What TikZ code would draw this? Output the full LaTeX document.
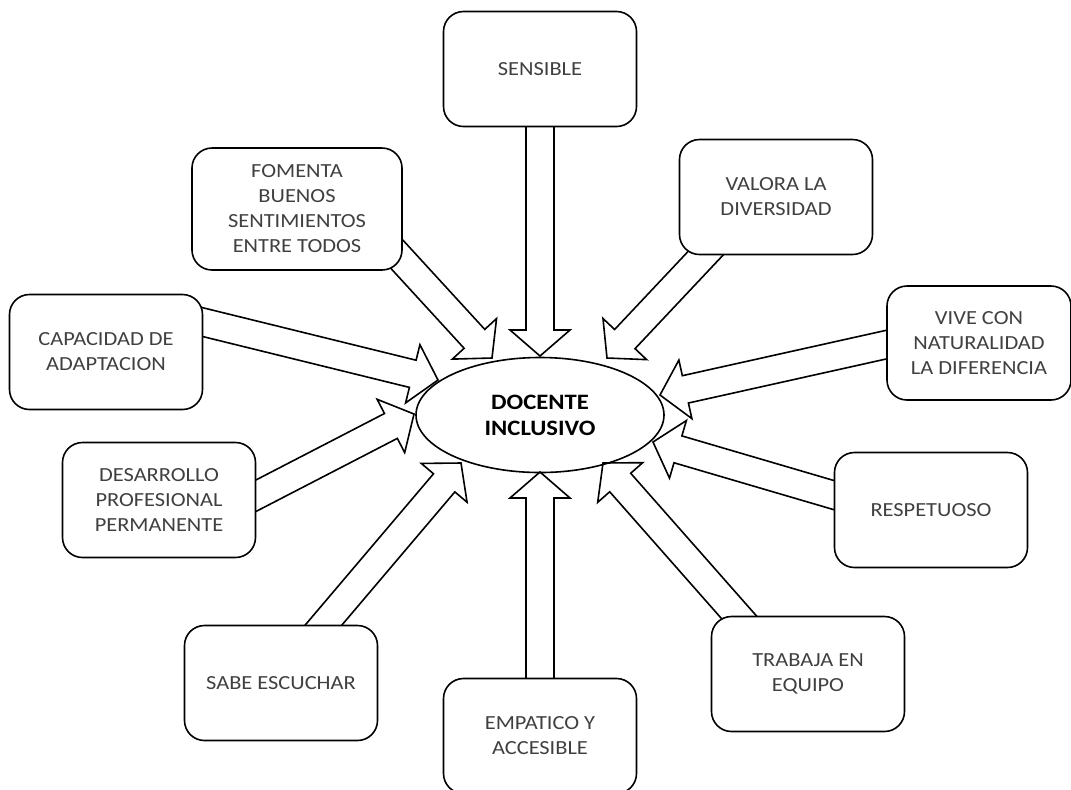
\documentclass[tikz,border=0pt]{standalone}
\usepackage{fontspec}
\setmainfont{Carlito}[FakeStretch=1.12]
\usetikzlibrary{calc,backgrounds,shapes.geometric}

\tikzset{
  caja/.style={draw, rounded corners=10pt, fill=white, line width=0.8pt,
    minimum width=96.5pt, minimum height=57.5pt, align=center,
    text=black!75, font=\fontsize{10}{12.5}\selectfont},
  flecha/.style={draw, fill=white, line width=0.8pt, line join=miter},
}

% block arrow from tail #1 to tip #2
\newcommand{\bloque}[2]{%
  \coordinate (hb) at ($(#2)!13pt!(#1)$);
  \path[flecha] ($(#1)!7pt!90:(#2)$) -- ($(hb)!7pt!90:(#2)$) -- ($(hb)!15pt!90:(#2)$)
    -- (#2) -- ($(hb)!15pt!-90:(#2)$) -- ($(hb)!7pt!-90:(#2)$) -- ($(#1)!7pt!-90:(#2)$) -- cycle;}

\begin{document}
\begin{tikzpicture}[x=0.5pt,y=-0.5pt]
\useasboundingbox (0,0) rectangle (1071,789);

\node[draw, ellipse, line width=0.8pt, minimum width=124pt, minimum height=57.5pt, align=center,
  font=\fontsize{11}{13}\selectfont\bfseries] (doc) at (540,415) {DOCENTE\\INCLUSIVO};

\node[caja] (sen) at (540,69) {SENSIBLE};
\node[caja] (val) at (776,197) {VALORA LA\\DIVERSIDAD};
\node[caja, minimum width=92pt, minimum height=57pt] (viv) at (979,343) {VIVE CON\\NATURALIDAD\\LA DIFERENCIA};
\node[caja] (res) at (931,510) {RESPETUOSO};
\node[caja] (tra) at (808,674) {TRABAJA EN\\EQUIPO};
\node[caja] (emp) at (540,736) {EMPATICO Y\\ACCESIBLE};
\node[caja] (sab) at (281,683) {SABE ESCUCHAR};
\node[caja] (des) at (159,500) {DESARROLLO\\PROFESIONAL\\PERMANENTE};
\node[caja] (cap) at (106,352) {CAPACIDAD DE\\ADAPTACION};
\node[caja, minimum width=105pt, minimum height=61pt] (fom) at (297,209) {FOMENTA\\BUENOS\\SENTIMIENTOS\\ENTRE TODOS};

% tails (inside the boxes) and tips (at the ellipse)
\coordinate (t1) at (sen.center);       \coordinate (p1) at ($(doc)+(0,-59)$);
\coordinate (t2) at ($(val)+(-57,42)$); \coordinate (p2) at ($(doc)+(67,-57)$);
\coordinate (t3) at ($(viv)+(-72,-3)$); \coordinate (p3) at ($(doc)+(120,-20)$);
\coordinate (t4) at ($(res)+(-77,-9)$); \coordinate (p4) at ($(doc)+(113,27)$);
\coordinate (t5) at ($(tra)+(-56,-42)$);\coordinate (p5) at ($(doc)+(63,48)$);
\coordinate (t6) at (emp.center);       \coordinate (p6) at ($(doc)+(0,57)$);
\coordinate (t7) at ($(sab)+(29,-42)$); \coordinate (p7) at ($(doc)+(-79,48)$);
\coordinate (t8) at ($(des)+(79,5)$);   \coordinate (p8) at ($(doc)+(-126,-1)$);
\coordinate (t9) at ($(cap)+(80,-34)$); \coordinate (p9) at ($(doc)+(-102,-35)$);
\coordinate (t10) at ($(fom)+(85,29)$); \coordinate (p10) at ($(doc)+(-48,-57)$);

\begin{scope}[on background layer]
\bloque{t1}{p1}
\bloque{t2}{p2}
\bloque{t3}{p3}
\bloque{t4}{p4}
\bloque{t5}{p5}
\bloque{t6}{p6}
\bloque{t7}{p7}
\bloque{t8}{p8}
\bloque{t9}{p9}
\bloque{t10}{p10}
\end{scope}
\end{tikzpicture}
\end{document}
